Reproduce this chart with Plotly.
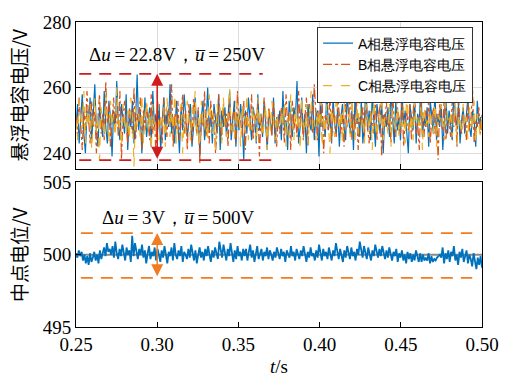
import numpy as np
import plotly.graph_objects as go

# ---------------- data ----------------
ua = [248,255,243,251,258,246,240,253,249,257,244,252,261,247,242,254,250,245,259,248,
      243,256,251,239,253,247,262,249,244,255,250,246,258,241,252,248,256,243,250,264,
      247,253,240,251,257,245,249,254,242,259,248,252,246,255,241,250,257,244,253,248,
      261,246,251,243,256,249,240,254,247,258,252,245,250,255,242,248,257,246,253,239,
      251,256,244,249,260,247,252,243,255,250,246,258,241,253,248,254,245,251,259,244,
      249,256,242,252,247,255,250,238,253,246,257,249,244,254,251,243,258,247,252,245,
      256,249,241,253,250,246,257,243,251,248,
      253,244,259,247,250,241,256,249,245,254,251,262,243,248,257,246,252,240,255,249,
      247,258,244,251,253,239,256,248,250,245,260,247,252,243,257,249,246,254,242,251,
      255,248,244,259,250,246,253,241,257,249,252,245,256,243,250,261,247,253,244,258,
      249,242,255,251,246,257,240,252,248,254,245,259,250,243,256,247,251,244,258,249,
      253,246,240,255,250,247,257,243,252,249,262,245,251,248,254,242,256,250,246,259,
      244,252,248,255,241,250,257,246,253,249,244,258,251,247,255,243,250,254,246,252,
      257,248,245,253,250,242,256,249,251,247]
ub = [252,245,257,249,241,254,247,259,250,243,256,248,253,240,251,258,246,252,244,262,
      249,255,242,250,257,247,253,245,259,238,251,256,248,243,254,250,246,260,244,252,
      249,257,241,253,247,255,250,244,258,246,252,239,256,248,251,243,257,250,245,254,
      248,261,242,252,247,256,244,250,258,246,253,241,255,249,243,257,251,246,254,237,
      252,248,259,245,251,243,256,249,253,240,247,258,250,244,255,248,252,242,257,246,
      251,254,243,259,248,250,245,256,241,253,249,247,258,244,252,250,255,239,251,246,
      257,248,243,254,250,245,256,249,242,252,
      246,254,250,243,258,249,252,241,256,247,251,245,259,248,253,244,250,257,242,255,
      249,246,261,251,244,253,248,256,240,252,250,247,258,243,254,249,245,257,251,246,
      253,242,255,248,250,260,244,252,247,256,241,251,249,254,245,258,248,243,253,250,
      246,257,244,251,255,239,252,248,256,247,250,243,259,249,245,254,251,246,257,242,
      250,253,247,255,244,252,258,246,249,241,256,250,245,253,248,257,243,251,254,246,
      252,238,255,249,247,258,244,251,250,245,256,248,253,242,257,249,246,252,250,244,
      255,247,251,259,243,250,248,254,246,252]
uc = [250,244,256,251,247,259,243,253,248,255,241,250,257,246,252,238,254,249,245,258,
      251,243,256,248,252,245,260,247,250,242,255,249,246,253,244,257,251,236,254,248,
      252,245,258,243,250,256,247,253,241,255,249,246,259,244,251,248,254,242,257,250,
      245,253,247,258,243,251,249,255,240,252,246,256,250,244,254,248,259,245,251,242,
      256,249,247,253,244,258,250,246,252,241,255,248,254,243,257,249,245,251,260,247,
      250,244,256,248,253,242,255,249,246,258,244,251,247,254,250,243,257,248,252,245,
      249,255,241,253,247,256,250,244,252,248,
      247,253,249,256,242,251,245,258,250,244,254,248,252,241,257,249,246,255,243,251,
      259,247,250,244,253,248,256,242,252,246,255,250,240,254,249,245,258,251,247,253,
      243,256,250,248,252,245,257,249,244,254,246,260,248,251,243,255,250,247,253,241,
      256,249,245,252,248,258,244,251,250,246,255,242,253,249,247,257,245,251,248,254,
      243,259,250,246,252,244,256,249,251,247,254,241,257,248,250,245,253,249,246,258,
      242,252,250,255,247,244,256,251,248,253,245,250,257,243,252,249,246,255,248,251,
      244,254,250,247,256,243,252,249,245,251]
um = [500.1,499.8,500.3,499.9,500.2,499.6,500.0,499.4,499.9,499.3,500.1,499.5,499.8,500.2,499.6,500.0,499.4,500.3,499.7,500.1,
      500.5,499.9,500.8,500.2,500.4,500.0,500.6,499.8,500.9,500.1,499.7,500.4,499.9,500.7,500.2,499.6,500.5,500.0,500.3,499.5,
      501.3,499.9,500.8,500.2,499.7,500.4,500.0,500.7,499.8,500.3,499.4,500.1,500.6,499.7,500.2,499.9,500.5,499.6,500.4,500.0,
      499.5,500.3,499.8,500.6,500.1,499.4,500.2,499.9,500.5,499.6,500.8,500.0,499.7,500.3,499.9,500.6,499.5,500.2,500.0,499.7,
      500.4,499.8,500.7,500.1,499.6,500.3,499.4,500.0,500.5,499.8,500.2,499.6,500.4,499.9,500.6,500.0,499.5,500.3,499.8,500.5,
      500.1,499.7,500.9,500.2,499.8,500.7,500.0,499.6,500.4,499.9,500.8,500.1,499.5,500.3,499.7,500.6,499.9,500.2,499.6,500.4,
      499.9,500.4,499.6,500.2,500.7,499.8,500.3,499.5,500.1,500.6,499.7,500.0,500.4,499.6,500.2,499.9,500.5,499.7,500.3,500.0,
      499.6,500.2,499.8,500.5,500.1,499.7,500.4,499.9,500.2,499.5,500.3,500.0,499.8,500.6,499.9,500.2,499.6,500.4,500.1,499.7,
      500.3,499.9,500.6,500.0,499.5,500.2,499.8,500.5,499.9,500.1,499.6,500.3,499.8,500.7,500.0,499.6,500.4,499.9,500.2,499.7,
      500.5,500.0,499.6,500.3,499.9,500.8,500.1,499.7,500.4,500.0,499.5,500.3,499.8,500.6,500.1,499.7,500.5,499.9,500.2,499.6,
      500.4,500.0,500.9,500.2,499.8,500.6,500.1,499.7,500.5,500.0,499.6,500.3,499.9,500.7,500.2,499.8,500.4,499.9,500.6,500.0,
      499.7,500.3,499.8,500.5,500.0,499.6,500.2,499.9,500.4,499.5,500.1,499.8,500.3,499.6,500.0,499.4,500.2,499.7,500.1,499.5,
      500.0,499.6,500.3,499.8,499.5,500.1,499.5,500.0,499.6,499.8,499.6,500.1,499.4,499.9,499.5,499.7,499.6,499.8,499.9,500.0,
      499.8,500.5,499.4,500.1,499.7,500.3,499.5,500.2,499.9,500.6,499.6,500.0,499.3,500.2,499.8,500.4,499.5,499.9,500.3,499.4,
      500.0,499.7,499.2,500.1,499.5,499.0,499.8,499.3,499.9,499.1]

t_start, t_end = 0.25, 0.50
x_ticks = [0.25, 0.30, 0.35, 0.40, 0.45, 0.50]
x_ticktext = ["0.25", "0.30", "0.35", "0.40", "0.45", "0.50"]
top_yticks = [240, 260, 280]
bot_yticks = [495, 500, 505]
names = ["A相悬浮电容电压", "B相悬浮电容电压", "C相悬浮电容电压"]

top_ref = [264.2, 237.9]          # red dashed bounds
top_ref_end = [0.365, 0.374]
bot_ref = [501.5, 498.4]          # orange dashed bounds
bot_ref_span = [0.253, 0.494]
arrow_t = 0.30

# ---------------- figure ----------------
t_top = np.linspace(t_start, t_end, len(ua))
t_bot = np.linspace(t_start, t_end, len(um))

BLUE, ORANGE, YELLOW = "#0072BD", "#D95319", "#EDB120"
RED, ORG2 = "#D01C1C", "#F07D22"
SERIF = "Liberation Serif"
CJK = "Noto Sans CJK SC"

fig = go.Figure()
fig.add_trace(go.Scatter(x=t_top, y=ua, mode="lines", name=names[0],
                         line=dict(color=BLUE, width=1.2), xaxis="x", yaxis="y"))
fig.add_trace(go.Scatter(x=t_top, y=ub, mode="lines", name=names[1],
                         line=dict(color=ORANGE, width=1.2, dash="dashdot"), xaxis="x", yaxis="y"))
fig.add_trace(go.Scatter(x=t_top, y=uc, mode="lines", name=names[2],
                         line=dict(color=YELLOW, width=1.2, dash="dash"), xaxis="x", yaxis="y"))

for yv, xe in zip(top_ref, top_ref_end):
    fig.add_trace(go.Scatter(x=[0.252, xe], y=[yv, yv], mode="lines", showlegend=False,
                             line=dict(color=RED, width=1.8, dash="12px,8px"), xaxis="x", yaxis="y"))

# bottom
fig.add_trace(go.Scatter(x=[t_start, t_end], y=[500, 500], mode="lines", showlegend=False,
                         line=dict(color="#8a8a8a", width=2), xaxis="x2", yaxis="y2"))
fig.add_trace(go.Scatter(x=t_bot, y=um, mode="lines", showlegend=False,
                         line=dict(color=BLUE, width=1.8), xaxis="x2", yaxis="y2"))
for yv in bot_ref:
    fig.add_trace(go.Scatter(x=bot_ref_span, y=[yv, yv], mode="lines", showlegend=False,
                             line=dict(color=ORG2, width=1.8, dash="12px,8px"), xaxis="x2", yaxis="y2"))

axis_common = dict(showline=True, linecolor="black", linewidth=1, mirror=True,
                   ticks="inside", ticklen=5, tickcolor="black", zeroline=False,
                   tickfont=dict(family=SERIF, size=19, color="black"))

fig.update_layout(
    width=511, height=376, paper_bgcolor="white", plot_bgcolor="white",
    font=dict(family=SERIF),
    margin=dict(l=76, r=20, t=17, b=49),
    xaxis=dict(domain=[0, 1], anchor="y", range=[t_start, t_end], tickvals=x_ticks,
               showticklabels=False, showgrid=True, gridcolor="#dcdcdc", gridwidth=1, **axis_common),
    yaxis=dict(domain=[0.519, 1], anchor="x", range=[235.3, 280], tickvals=top_yticks,
               showgrid=True, gridcolor="#dcdcdc", gridwidth=1, **axis_common),
    xaxis2=dict(domain=[0, 1], anchor="y2", range=[t_start, t_end], tickvals=x_ticks,
                ticktext=x_ticktext, showgrid=False, **axis_common),
    yaxis2=dict(domain=[0, 0.474], anchor="x2", range=[495, 505], tickvals=bot_yticks,
                showgrid=False, **axis_common),
    legend=dict(x=0.978, xanchor="right", y=0.985, yanchor="top", bgcolor="white",
                bordercolor="#333", borderwidth=1, tracegroupgap=0,
                font=dict(family="Liberation Sans", size=14, color="black")),
    showlegend=True,
)

ann = []
ann.append(dict(x=arrow_t, y=top_ref[0], ax=arrow_t, ay=top_ref[1], xref="x", yref="y",
                axref="x", ayref="y", text="", showarrow=True, arrowhead=2, startarrowhead=2,
                arrowside="end+start", arrowcolor=RED, arrowwidth=1.5, arrowsize=1.6,
                startarrowsize=1.6))
ann.append(dict(x=arrow_t, y=bot_ref[0], ax=arrow_t, ay=bot_ref[1], xref="x2", yref="y2",
                axref="x2", ayref="y2", text="", showarrow=True, arrowhead=2, startarrowhead=2,
                arrowside="end+start", arrowcolor=ORG2, arrowwidth=1.5, arrowsize=1.6,
                startarrowsize=1.6))
ann.append(dict(x=0.2566, y=270.0, xref="x", yref="y", xanchor="left", yanchor="middle",
                showarrow=False,
                text="Δ<i>u</i>\u2009=\u200922.8V，<i>u\u0305</i>\u2009=\u2009250V",
                font=dict(family=SERIF, size=19, color="black")))
ann.append(dict(x=0.265, y=502.6, xref="x2", yref="y2", xanchor="left", yanchor="middle",
                showarrow=False,
                text="Δ<i>u</i>\u2009=\u20093V，<i>u\u0305</i>\u2009=\u2009500V",
                font=dict(family=SERIF, size=19, color="black")))
# axis titles
ann.append(dict(x=-0.142, y=0.76, xref="paper", yref="paper", textangle=-90, showarrow=False,
                xanchor="center", yanchor="middle",
                text="悬浮电容电压/V", font=dict(family=CJK, size=19, color="black")))
ann.append(dict(x=-0.142, y=0.237, xref="paper", yref="paper", textangle=-90, showarrow=False,
                xanchor="center", yanchor="middle",
                text="中点电位/V", font=dict(family=CJK, size=19, color="black")))
ann.append(dict(x=0.499, y=-0.13, xref="paper", yref="paper", showarrow=False,
                xanchor="center", yanchor="middle",
                text="<i>t</i>/s", font=dict(family=SERIF, size=19, color="black")))
fig.update_layout(annotations=ann)

fig.write_html("out.html")
